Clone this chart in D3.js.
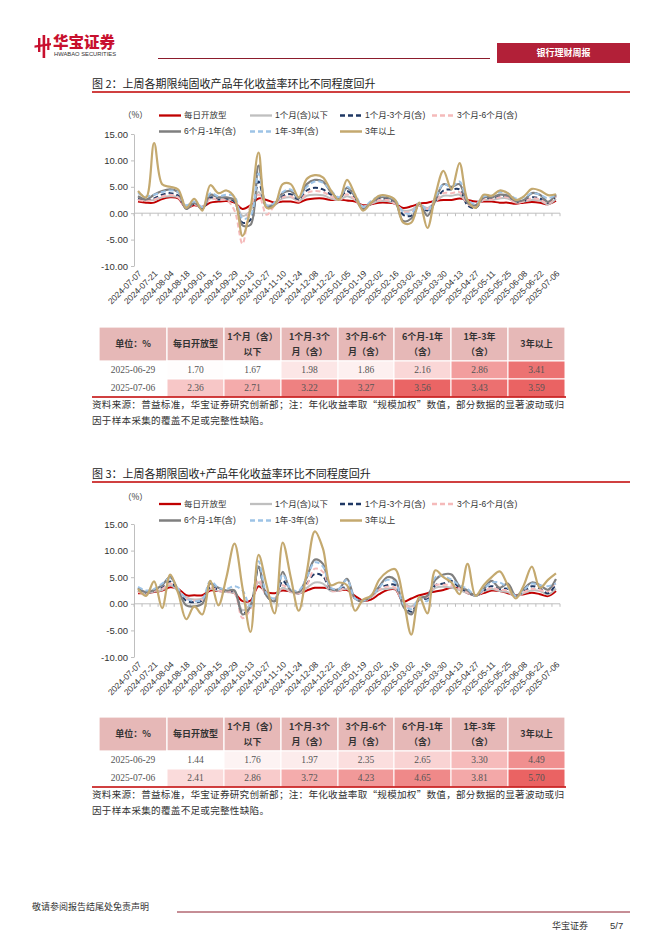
<!DOCTYPE html>
<html><head><meta charset="utf-8">
<script src="https://cdn.jsdelivr.net/npm/d3@7"></script>
<style>body{margin:0;background:#fff}svg{display:block}</style>
</head><body>
<svg id="page" width="662" height="936"></svg>
<script>
// ---------------- DATA ----------------
const dates = ["2024-07-07","2024-07-14","2024-07-21","2024-07-28","2024-08-04","2024-08-11","2024-08-18","2024-08-25",
"2024-09-01","2024-09-08","2024-09-15","2024-09-22","2024-09-29","2024-10-06","2024-10-13","2024-10-20","2024-10-27",
"2024-11-03","2024-11-10","2024-11-17","2024-11-24","2024-12-01","2024-12-08","2024-12-15","2024-12-22","2024-12-29",
"2025-01-05","2025-01-12","2025-01-19","2025-01-26","2025-02-02","2025-02-09","2025-02-16","2025-02-23","2025-03-02",
"2025-03-09","2025-03-16","2025-03-23","2025-03-30","2025-04-06","2025-04-13","2025-04-20","2025-04-27","2025-05-04",
"2025-05-11","2025-05-18","2025-05-25","2025-06-01","2025-06-08","2025-06-15","2025-06-22","2025-06-29","2025-07-06"];
const tickLabels = ["2024-07-07","2024-07-21","2024-08-04","2024-08-18","2024-09-01","2024-09-15","2024-09-29","2024-10-13",
"2024-10-27","2024-11-10","2024-11-24","2024-12-08","2024-12-22","2025-01-05","2025-01-19","2025-02-02","2025-02-16",
"2025-03-02","2025-03-16","2025-03-30","2025-04-13","2025-04-27","2025-05-11","2025-05-25","2025-06-08","2025-06-22","2025-07-06"];
const yTicks = [-10, -5, 0, 5, 10, 15];
const seriesNames = ["每日开放型","1个月(含)以下","1个月-3个月(含)","3个月-6个月(含)","6个月-1年(含)","1年-3年(含)","3年以上"];

// Chart 1 (图2) – 纯固收
const c1_daily = [2.2,2.0,2.0,2.7,3.0,2.8,1.0,1.5,1.2,2.0,2.2,2.3,2.0, 0.8,1.5,2.8,2.5,2.0,2.2,2.2,2.0,2.6,2.8,2.8,2.5,
 2.6,2.4,2.2,1.5,1.7,2.0,2.0,1.8,1.0,1.3,1.8,2.0,2.3,2.5,2.5,2.8,2.5,2.2,2.2,2.2,2.0,2.0,1.8,2.0,2.1,2.0, 1.70,2.36];
const c1_m1 = [2.8,2.5,2.5,3.0,3.2,3.0,1.2,1.8,1.2,2.8,2.5,2.6,2.2, -0.5,0.5,4.0,1.5,1.8,2.8,3.0,2.3,3.3,3.5,3.4,2.8,
 2.5,3.2,2.5,1.3,1.8,2.3,2.3,1.8,0.5,0.6,1.6,1.0,2.2,3.3,3.3,3.5,1.8,1.5,2.5,2.5,2.8,2.8,2.0,2.2,2.5,2.4, 1.67,2.71];
const c1_m1_3 = [2.7,2.4,2.8,3.5,3.8,3.3,1.0,1.8,0.8,3.0,2.6,2.8,2.2, -1.8,-1.2,6.0,1.2,1.5,3.2,3.6,2.5,4.3,4.8,4.5,3.5,
 2.8,4.2,2.8,0.8,1.8,2.7,2.7,2.0,-0.3,-0.5,1.5,0.5,2.3,4.3,4.5,4.5,1.5,1.0,2.8,2.8,3.2,3.3,2.2,2.3,3.0,2.8, 1.98,3.22];
const c1_m3_6 = [2.5,2.3,2.6,3.2,3.5,3.0,1.0,1.7,1.0,2.8,2.5,2.5,0.5, -5.8,1.5,3.5,-0.3,1.5,3.0,3.2,2.2,3.8,4.2,4.0,3.2,
 2.6,3.6,2.6,1.0,1.8,2.5,2.5,1.8,0.3,0.3,1.5,0.8,2.2,3.8,3.8,4.0,1.8,1.3,2.6,2.6,3.0,3.0,2.0,2.2,2.8,2.6, 1.86,3.27];
const c1_m6_y1 = [3.2,2.6,3.5,4.2,4.5,4.0,0.8,2.0,0.8,3.5,3.0,3.0,2.5, -2.3,-2.2,9.0,1.2,1.8,3.8,4.2,2.8,5.5,6.3,6.0,4.0,
 2.8,4.8,3.2,0.8,2.0,3.0,3.0,2.2,-1.5,-1.0,1.8,-0.5,2.5,5.5,5.0,5.5,2.0,1.5,3.0,3.0,3.5,3.3,2.3,2.5,3.8,3.5, 2.16,3.56];
const c1_y1_3 = [3.8,3.2,3.5,4.0,4.3,4.0,1.5,2.2,1.2,3.8,3.2,3.5,3.2, -1.0,-0.5,7.5,1.5,2.0,4.0,4.5,3.0,5.0,6.0,5.8,4.3,
 3.0,5.0,3.5,1.2,2.3,3.2,3.2,2.5,0.2,0.0,2.0,0.5,3.0,5.5,5.0,6.0,2.5,1.8,3.2,3.3,4.0,3.8,2.8,3.0,3.8,3.5, 2.86,3.43];
const c1_y3p = [4.2,3.0,13.3,5.5,5.0,4.5,1.0,2.7,0.5,5.3,3.8,4.3,3.0, -4.3,1.0,11.5,1.0,1.5,5.5,5.5,3.0,6.5,7.2,6.8,4.3,
 2.5,6.3,3.5,0.5,2.0,3.3,3.3,2.5,-1.8,-1.8,2.0,-2.8,3.5,8.0,4.5,9.5,2.5,1.0,3.5,3.3,4.3,3.8,2.5,3.2,4.6,4.3, 3.41,3.59];

// Chart 2 (图3) – 固收+
const c2_daily = [2.0,2.0,2.2,2.5,3.1,2.8,1.6,1.6,1.6,2.5,2.4,2.3,2.0, 0.5,0.6,3.3,2.2,2.0,2.5,2.3,2.0,2.5,3.0,3.0,2.8,
 2.5,2.6,1.5,0.6,0.8,1.8,2.6,2.7,0.4,1.0,1.6,2.0,2.3,2.6,3.0,2.8,2.0,1.6,2.0,2.5,2.4,2.0,1.6,1.8,2.1,1.8, 1.44,2.41];
const c2_m1 = [2.3,2.0,2.3,2.6,3.5,2.4,1.2,0.8,1.0,2.8,2.4,2.2,2.0, -1.2,0.0,4.0,1.6,1.0,3.0,2.2,1.9,3.0,4.0,3.8,2.4,
 2.5,2.8,1.0,0.5,1.3,2.6,2.8,2.8,0.3,-0.5,0.8,1.5,3.0,3.2,3.0,2.6,2.0,1.5,2.3,2.8,2.4,2.2,1.4,2.0,2.5,2.4, 1.76,2.86];
const c2_m1_3 = [2.5,2.0,2.4,3.0,4.2,2.3,0.6,0.3,0.6,3.2,2.6,2.3,2.2, -1.8,-0.5,6.8,1.5,0.5,4.3,2.5,2.0,3.8,5.6,5.2,2.5,
 2.6,3.2,1.0,0.5,1.3,2.8,3.5,3.5,0.0,-1.5,0.8,1.0,3.5,3.8,4.3,3.0,2.3,1.5,2.5,3.3,2.8,2.8,1.5,2.3,3.3,2.9, 1.97,3.72];
const c2_m3_6 = [2.2,2.0,2.4,2.8,3.8,2.5,1.0,0.6,0.8,3.0,2.5,2.3,2.0, -2.7,-1.0,4.5,1.5,1.0,3.5,2.3,2.0,3.5,6.6,6.0,2.5,
 2.5,3.0,1.0,0.5,1.3,2.7,3.2,3.0,0.2,-0.8,0.8,1.3,3.5,3.6,3.5,2.8,2.2,1.5,2.4,3.0,2.6,2.5,1.5,2.2,2.8,2.6, 2.35,4.23];
const c2_m6_y1 = [3.0,2.2,2.6,3.5,5.0,2.5,-0.3,-0.5,0.0,3.8,3.0,2.5,2.5, -2.0,-0.5,7.0,1.5,0.5,6.0,2.5,2.2,5.0,8.3,7.5,2.8,
 2.8,4.7,1.0,0.5,1.5,3.2,5.0,4.5,-0.5,-2.0,1.0,1.5,4.5,5.5,5.5,3.3,2.5,1.5,2.8,4.3,3.0,3.8,1.5,2.8,4.0,3.5, 2.65,4.65];
const c2_y1_3 = [3.2,2.5,2.8,3.8,4.8,2.8,1.0,0.5,0.8,4.3,3.0,2.8,3.3, 2.5,-0.5,8.0,2.0,1.0,5.5,2.8,2.5,5.0,7.8,7.0,3.0,
 2.8,4.5,1.0,0.6,1.5,3.0,4.5,4.0,0.0,-1.0,1.0,0.5,5.0,5.2,4.5,3.5,2.8,1.5,2.8,4.0,4.0,3.0,1.5,2.6,3.8,3.5, 3.30,3.81];
const c2_y3p = [2.8,1.5,4.2,-0.8,5.5,2.0,-2.9,-0.5,-2.0,4.3,-0.3,5.0,11.3, 3.0,-5.3,9.2,3.5,-1.8,11.5,5.0,-1.3,6.0,13.6,10.4,3.5,
 4.0,3.5,-1.3,0.8,1.5,4.5,6.0,6.5,1.0,-5.8,1.3,-1.8,6.3,5.0,4.0,1.8,7.5,1.5,3.5,5.0,6.1,3.5,1.0,3.5,7.0,3.0, 4.49,5.70];

// Tables
const tableHeaders = ["单位：%","每日开放型","1个月（含）\n以下","1个月-3个\n月（含）","3个月-6个\n月（含）","6个月-1年\n（含）","1年-3年\n（含）","3年以上"];
const tableDates = ["2025-06-29","2025-07-06"];
const t1_prev = [1.70,1.67,1.98,1.86,2.16,2.86,3.41];
const t1_last = [2.36,2.71,3.22,3.27,3.56,3.43,3.59];
const t2_prev = [1.44,1.76,1.97,2.35,2.65,3.30,4.49];
const t2_last = [2.41,2.86,3.72,4.23,4.65,3.81,5.70];

// ---------------- STYLE ----------------
const CJK = "'Noto Sans CJK SC','Noto Sans',sans-serif";
const SANS = "'Liberation Sans',Arial,'Noto Sans CJK SC',sans-serif";
const SERIF = "'Liberation Serif','Noto Sans CJK SC',serif";
const styles = [
  {color:"#c00000", width:2,   dash:null},
  {color:"#bfbfbf", width:2,   dash:null},
  {color:"#1f3864", width:2,   dash:"5,3"},
  {color:"#f5baba", width:2,   dash:"5,3"},
  {color:"#7f7f7f", width:2.2, dash:null},
  {color:"#9dc3e6", width:2,   dash:"5,3"},
  {color:"#c4a96f", width:2.2, dash:null}
];
const svg = d3.select("#page");

// ---------------- HEADER ----------------
(function header(){
  const g = svg.append("g");
  const red = "#c8102e";
  g.append("rect").attr("x",38).attr("y",38).attr("width",2.4).attr("height",14).attr("fill",red);
  g.append("rect").attr("x",42.6).attr("y",35).attr("width",2.6).attr("height",23).attr("fill",red);
  g.append("rect").attr("x",47.2).attr("y",38).attr("width",2.2).attr("height",12).attr("fill",red);
  g.append("path").attr("d","M34.5,45.5 L51,43 L51,45.2 L34.5,47.7 Z").attr("fill",red);
  g.append("text").attr("x",53).attr("y",47.5).text("华宝证券")
    .attr("font-family",CJK).attr("font-weight",900).attr("font-size",15.5).attr("fill",red);
  g.append("text").attr("x",54).attr("y",56).text("HWABAO SECURITIES")
    .attr("font-family",SANS).attr("font-size",5.6).attr("fill","#333").attr("textLength",62).attr("lengthAdjust","spacingAndGlyphs");
  g.append("line").attr("x1",158).attr("x2",490).attr("y1",58.5).attr("y2",58.5).attr("stroke","#8c1c2c").attr("stroke-width",1);
  g.append("rect").attr("x",497).attr("y",43).attr("width",133).attr("height",20).attr("fill","#b22038");
  g.append("text").attr("x",563.5).attr("y",53).attr("dy","0.35em").attr("text-anchor","middle").text("银行理财周报")
    .attr("font-family",CJK).attr("font-weight",700).attr("font-size",9).attr("fill","#fff");
})();

// ---------------- CHART ----------------
function drawChart(cfg){
  const g = svg.append("g");
  g.append("text").attr("x",92).attr("y",cfg.titleY).attr("dy","0.35em").text(cfg.title)
    .attr("font-family",CJK).attr("font-size",11).attr("fill","#222");
  g.append("line").attr("x1",92).attr("x2",630).attr("y1",cfg.titleLineY).attr("y2",cfg.titleLineY)
    .attr("stroke","#c00000").attr("stroke-width",1.6);

  const x = d3.scaleBand().domain(dates).range([134,560]);
  const y = d3.scaleLinear().domain([-10,15]).range([cfg.yBottom, cfg.yTop]);
  const cx = d => x(d) + x.bandwidth()/2;

  // y axis
  const ya = g.append("g").attr("transform","translate(134,0)")
    .call(d3.axisLeft(y).tickValues(yTicks).tickFormat(d => d.toFixed(2)).tickSize(3).tickSizeOuter(0).tickPadding(3));
  ya.select(".domain").attr("stroke","#bfbfbf");
  ya.selectAll(".tick line").attr("stroke","#bfbfbf");
  ya.selectAll("text").attr("font-family",SANS).attr("font-size",9.5).attr("fill","#333");

  // zero axis with week ticks
  const y0 = y(0);
  g.append("line").attr("x1",134).attr("x2",560).attr("y1",y0).attr("y2",y0).attr("stroke","#bfbfbf").attr("stroke-width",1);
  g.selectAll(".wk").data(dates.concat(["__end"])).join("line")
    .attr("x1",d => d==="__end" ? 560 : x(d)).attr("x2",d => d==="__end" ? 560 : x(d))
    .attr("y1",y0).attr("y2",y0+3).attr("stroke","#bfbfbf").attr("stroke-width",1);

  // x labels
  g.selectAll(".xl").data(tickLabels).join("text")
    .attr("transform",d => `translate(${cx(d)+2},${cfg.yBottom+6}) rotate(-45)`)
    .attr("text-anchor","end").attr("dy","0.35em").text(d => d)
    .attr("font-family",SANS).attr("font-size",8.5).attr("fill","#333");

  // lines
  const line = d3.line().x((d,i) => cx(dates[i])).y(d => y(d)).curve(d3.curveCatmullRom.alpha(0.5));
  cfg.series.forEach((s,k) => {
    const st = styles[k];
    g.append("path").attr("d",line(s)).attr("fill","none").attr("stroke",st.color)
      .attr("stroke-width",st.width).attr("stroke-dasharray",st.dash).attr("stroke-linejoin","round");
  });

  // legend
  g.append("text").attr("x",123).attr("y",cfg.pctY).attr("dy","0.35em").text("（%）")
    .attr("font-family",CJK).attr("font-size",8.5).attr("fill","#333");
  const cols = [159,250,340,432];
  seriesNames.forEach((n,k) => {
    const row = k < 4 ? 0 : 1, col = k < 4 ? k : k-4;
    const lx = cols[col], ly = cfg.legendRows[row], st = styles[k];
    g.append("line").attr("x1",lx).attr("x2",lx+22).attr("y1",ly).attr("y2",ly)
      .attr("stroke",st.color).attr("stroke-width",st.width+0.3).attr("stroke-dasharray",st.dash);
    g.append("text").attr("x",lx+25).attr("y",ly).attr("dy","0.35em").text(n)
      .attr("font-family",SANS).attr("font-size",8.5).attr("fill","#333");
  });
}

// ---------------- TABLE ----------------
function drawTable(cfg){
  const g = svg.append("g");
  const edges = [99,167,224,281,338,394,451,508,565];
  const top = cfg.top, hH = 34, rH = 18;
  const all = cfg.prev.concat(cfg.last);
  const color = d3.scaleLinear().domain([d3.min(all), d3.max(all)]).range(["#ffffff","#ea6363"]);
  // header
  tableHeaders.forEach((h,i) => {
    g.append("rect").attr("x",edges[i]).attr("y",top).attr("width",edges[i+1]-edges[i]).attr("height",hH)
      .attr("fill","#e6b8b7").attr("stroke","#fff").attr("stroke-width",1.2);
    const lines = h.split("\n");
    const cxm = (edges[i]+edges[i+1])/2;
    lines.forEach((t,j) => {
      const yy = lines.length === 1 ? top+hH/2 : top+9.5+j*15.5;
      g.append("text").attr("x",cxm).attr("y",yy).attr("dy","0.35em").attr("text-anchor","middle").text(t)
        .attr("font-family",CJK).attr("font-weight",700).attr("font-size",9).attr("fill","#333");
    });
  });
  [cfg.prev, cfg.last].forEach((row,r) => {
    const ry = top + hH + r*rH;
    g.append("rect").attr("x",edges[0]).attr("y",ry).attr("width",edges[1]-edges[0]).attr("height",rH)
      .attr("fill","#fff");
    g.append("text").attr("x",(edges[0]+edges[1])/2).attr("y",ry+rH/2).attr("dy","0.35em").attr("text-anchor","middle")
      .text(tableDates[r]).attr("font-family",SERIF).attr("font-size",9.5).attr("fill","#555");
    row.forEach((v,i) => {
      g.append("rect").attr("x",edges[i+1]).attr("y",ry).attr("width",edges[i+2]-edges[i+1]).attr("height",rH)
        .attr("fill",color(v)).attr("stroke","#fff").attr("stroke-width",1);
      g.append("text").attr("x",(edges[i+1]+edges[i+2])/2).attr("y",ry+rH/2).attr("dy","0.35em").attr("text-anchor","middle")
        .text(v.toFixed(2)).attr("font-family",SERIF).attr("font-size",9.5).attr("fill","#555");
    });
  });
  const by = top + hH + 2*rH;
  g.append("line").attr("x1",92).attr("x2",566).attr("y1",by).attr("y2",by).attr("stroke","#c00000").attr("stroke-width",1.6);
  // notes
  g.append("text").attr("x",92).attr("y",by+8).attr("dy","0.35em")
    .text("资料来源：普益标准，华宝证券研究创新部；注：年化收益率取“规模加权”数值，部分数据的显著波动或归")
    .attr("font-family",CJK).attr("font-size",9.6).attr("fill","#333").attr("textLength",472).attr("lengthAdjust","spacing");
  g.append("text").attr("x",92).attr("y",by+24).attr("dy","0.35em")
    .text("因于样本采集的覆盖不足或完整性缺陷。")
    .attr("font-family",CJK).attr("font-size",9.6).attr("fill","#333").attr("textLength",177).attr("lengthAdjust","spacing");
}

drawChart({title:"图 2：上周各期限纯固收产品年化收益率环比不同程度回升", titleY:84, titleLineY:92,
  pctY:115, legendRows:[115.5,131.5], yTop:134, yBottom:266,
  series:[c1_daily,c1_m1,c1_m1_3,c1_m3_6,c1_m6_y1,c1_y1_3,c1_y3p]});
drawTable({top:327, prev:t1_prev, last:t1_last});

drawChart({title:"图 3：上周各期限固收+产品年化收益率环比不同程度回升", titleY:474, titleLineY:482,
  pctY:497, legendRows:[504,520.5], yTop:524, yBottom:657,
  series:[c2_daily,c2_m1,c2_m1_3,c2_m3_6,c2_m6_y1,c2_y1_3,c2_y3p]});
drawTable({top:717, prev:t2_prev, last:t2_last});

// ---------------- FOOTER ----------------
(function footer(){
  const g = svg.append("g");
  g.append("text").attr("x",32).attr("y",907).attr("dy","0.35em").text("敬请参阅报告结尾处免责声明")
    .attr("font-family",CJK).attr("font-size",9).attr("fill","#333");
  g.append("line").attr("x1",177).attr("x2",630).attr("y1",912).attr("y2",912).attr("stroke","#8c1c2c").attr("stroke-width",1);
  g.append("text").attr("x",552).attr("y",926).attr("dy","0.35em").text("华宝证券")
    .attr("font-family",CJK).attr("font-size",9).attr("fill","#333");
  g.append("text").attr("x",610).attr("y",926).attr("dy","0.35em").text("5/7")
    .attr("font-family",SANS).attr("font-size",9.5).attr("fill","#333");
})();
</script>
</body></html>
